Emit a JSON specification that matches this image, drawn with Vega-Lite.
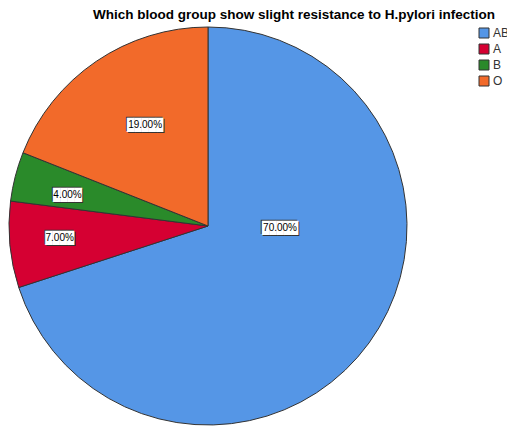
{
  "$schema": "https://vega.github.io/schema/vega-lite/v6.json",
  "width": 398,
  "height": 398,
  "autosize": {"type": "none"},
  "padding": {"left": 9, "top": 27, "right": 100, "bottom": 2},
  "background": "white",
  "title": {
    "text": "Which blood group show slight resistance to H.pylori infection",
    "anchor": "start",
    "frame": "group",
    "dx": 84,
    "offset": 4,
    "fontSize": 13.5,
    "fontWeight": "bold",
    "font": "Liberation Sans",
    "color": "#000000"
  },
  "data": {
    "values": [
      {"category": "AB", "pct": 70, "ord": 1, "label": "70.00%"},
      {"category": "A", "pct": 7, "ord": 2, "label": "7.00%"},
      {"category": "B", "pct": 4, "ord": 3, "label": "4.00%"},
      {"category": "O", "pct": 19, "ord": 4, "label": "19.00%"}
    ]
  },
  "encoding": {
    "theta": {"field": "pct", "type": "quantitative", "stack": true},
    "order": {"field": "ord", "type": "quantitative"},
    "detail": {"field": "category", "type": "nominal"}
  },
  "layer": [
    {
      "mark": {"type": "arc", "stroke": "#333333", "strokeWidth": 1},
      "encoding": {
        "color": {
          "field": "category",
          "type": "nominal",
          "sort": ["AB", "A", "B", "O"],
          "scale": {"domain": ["AB", "A", "B", "O"], "range": ["#5596E6", "#D50032", "#2A8A2A", "#F26A2A"]},
          "legend": {
            "title": null,
            "orient": "none",
            "legendX": 469,
            "legendY": 0,
            "padding": 0,
            "symbolType": "square",
            "symbolSize": 100,
            "symbolStrokeColor": "#333333",
            "symbolStrokeWidth": 1,
            "symbolOpacity": 1,
            "labelFont": "Liberation Sans",
            "labelFontSize": 12,
            "labelColor": "#333333",
            "labelOffset": 3,
            "rowPadding": 2
          }
        }
      }
    },
    {"mark": {"type": "text", "radius": 72, "dx": 12.8, "dy": -41.3, "font": "DejaVu Sans Mono", "fontSize": 12, "fill": "#333333", "baseline": "middle", "align": "center"}, "encoding": {"text": {"condition": {"test": "datum.category === 'AB'", "value": "█████"}, "value": ""}}},
    {"mark": {"type": "text", "radius": 72, "dx": 14.8, "dy": -39.3, "font": "DejaVu Sans Mono", "fontSize": 12, "fill": "#333333", "baseline": "middle", "align": "center"}, "encoding": {"text": {"condition": {"test": "datum.category === 'AB'", "value": "█████"}, "value": ""}}},
    {"mark": {"type": "text", "radius": 72, "dx": 13.8, "dy": -40.3, "font": "DejaVu Sans Mono", "fontSize": 12, "fill": "#ffffff", "baseline": "middle", "align": "center"}, "encoding": {"text": {"condition": {"test": "datum.category === 'AB'", "value": "█████"}, "value": ""}}},
    {"mark": {"type": "text", "radius": 72, "dx": 13.8, "dy": -40.3, "font": "Liberation Sans", "fontSize": 10, "fill": "#000000", "baseline": "middle", "align": "center"}, "encoding": {"text": {"condition": {"test": "datum.category === 'AB'", "field": "label"}, "value": ""}}},

    {"mark": {"type": "text", "radius": 149, "dx": -1, "dy": -3, "font": "DejaVu Sans Mono", "fontSize": 12, "fill": "#333333", "baseline": "middle", "align": "center"}, "encoding": {"text": {"condition": {"test": "datum.category === 'A'", "value": "████"}, "value": ""}}},
    {"mark": {"type": "text", "radius": 149, "dx": 1, "dy": -1, "font": "DejaVu Sans Mono", "fontSize": 12, "fill": "#333333", "baseline": "middle", "align": "center"}, "encoding": {"text": {"condition": {"test": "datum.category === 'A'", "value": "████"}, "value": ""}}},
    {"mark": {"type": "text", "radius": 149, "dx": 0, "dy": -2, "font": "DejaVu Sans Mono", "fontSize": 12, "fill": "#ffffff", "baseline": "middle", "align": "center"}, "encoding": {"text": {"condition": {"test": "datum.category === 'A'", "value": "████"}, "value": ""}}},
    {"mark": {"type": "text", "radius": 149, "dx": 0, "dy": -2, "font": "Liberation Sans", "fontSize": 10, "fill": "#000000", "baseline": "middle", "align": "center"}, "encoding": {"text": {"condition": {"test": "datum.category === 'A'", "field": "label"}, "value": ""}}},

    {"mark": {"type": "text", "radius": 144, "dx": -2, "dy": 4, "font": "DejaVu Sans Mono", "fontSize": 12, "fill": "#333333", "baseline": "middle", "align": "center"}, "encoding": {"text": {"condition": {"test": "datum.category === 'B'", "value": "████"}, "value": ""}}},
    {"mark": {"type": "text", "radius": 144, "dx": 0, "dy": 6, "font": "DejaVu Sans Mono", "fontSize": 12, "fill": "#333333", "baseline": "middle", "align": "center"}, "encoding": {"text": {"condition": {"test": "datum.category === 'B'", "value": "████"}, "value": ""}}},
    {"mark": {"type": "text", "radius": 144, "dx": -1, "dy": 5, "font": "DejaVu Sans Mono", "fontSize": 12, "fill": "#ffffff", "baseline": "middle", "align": "center"}, "encoding": {"text": {"condition": {"test": "datum.category === 'B'", "value": "████"}, "value": ""}}},
    {"mark": {"type": "text", "radius": 144, "dx": -1, "dy": 5, "font": "Liberation Sans", "fontSize": 10, "fill": "#000000", "baseline": "middle", "align": "center"}, "encoding": {"text": {"condition": {"test": "datum.category === 'B'", "field": "label"}, "value": ""}}},

    {"mark": {"type": "text", "radius": 119, "dx": 3, "dy": -4, "font": "DejaVu Sans Mono", "fontSize": 12, "fill": "#333333", "baseline": "middle", "align": "center"}, "encoding": {"text": {"condition": {"test": "datum.category === 'O'", "value": "█████"}, "value": ""}}},
    {"mark": {"type": "text", "radius": 119, "dx": 5, "dy": -2, "font": "DejaVu Sans Mono", "fontSize": 12, "fill": "#333333", "baseline": "middle", "align": "center"}, "encoding": {"text": {"condition": {"test": "datum.category === 'O'", "value": "█████"}, "value": ""}}},
    {"mark": {"type": "text", "radius": 119, "dx": 4, "dy": -3, "font": "DejaVu Sans Mono", "fontSize": 12, "fill": "#ffffff", "baseline": "middle", "align": "center"}, "encoding": {"text": {"condition": {"test": "datum.category === 'O'", "value": "█████"}, "value": ""}}},
    {"mark": {"type": "text", "radius": 119, "dx": 4, "dy": -3, "font": "Liberation Sans", "fontSize": 10, "fill": "#000000", "baseline": "middle", "align": "center"}, "encoding": {"text": {"condition": {"test": "datum.category === 'O'", "field": "label"}, "value": ""}}}
  ],
  "config": {"view": {"stroke": null}}
}
